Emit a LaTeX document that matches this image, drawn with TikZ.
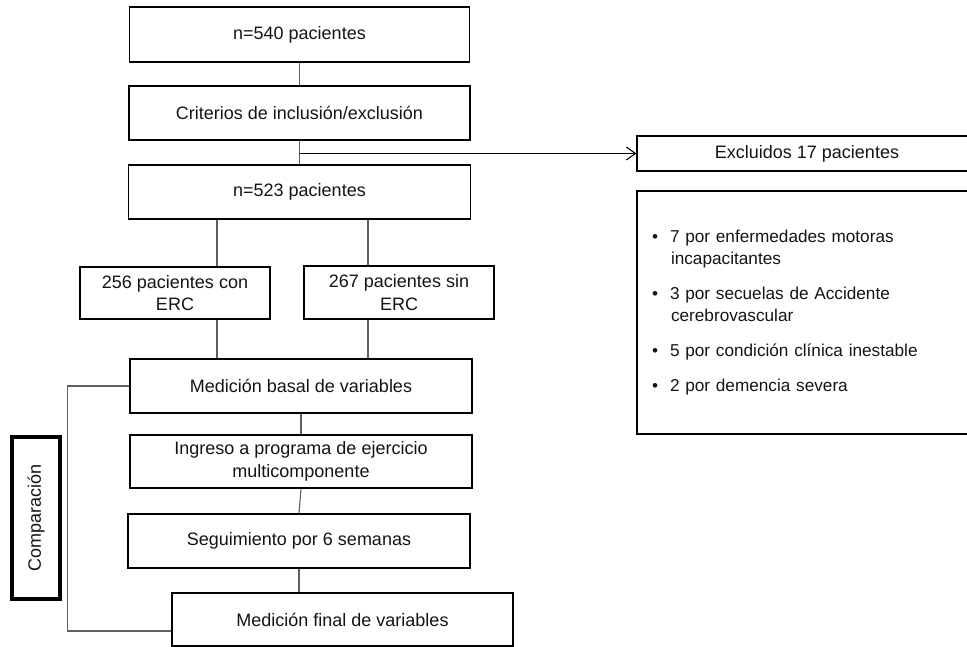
\documentclass[tikz,border=0pt]{standalone}
\usepackage{fontspec}
\setmainfont{Liberation Sans}
\usepackage{tikz}
\usetikzlibrary{arrows.meta}
\usepackage{xcolor}
\definecolor{ColLine}{RGB}{95,95,95}
\definecolor{ColText}{RGB}{20,20,20}
\tikzstyle{BoxStep}=[rectangle,draw=black,line width=1.4pt,inner sep=0pt,align=center,
text=ColText,font=\fontsize{18}{22.5}\selectfont]
\tikzstyle{BoxNote}=[BoxStep,align=left,font=\fontsize{17.2}{22}\selectfont]
\tikzstyle{Link}=[ColLine,line width=1.1pt]
\tikzstyle{LinkArrow}=[black,line width=1.1pt,-{Straight Barb[length=9pt,width=13pt]}]

\begin{document}
\begin{tikzpicture}[x=1pt,y=-1pt]
        \useasboundingbox (0,0) rectangle (967,647);
        \node[BoxStep,minimum width=340,minimum height=55](b1)at(299.5,34.5){n=540 pacientes};
        \node[BoxStep,minimum width=341,minimum height=54](b2)at(299.5,113){Criterios de inclusión/exclusión};
        \node[BoxStep,minimum width=342,minimum height=54](b3)at(299.5,192){n=523 pacientes};
        \node[BoxStep,minimum width=190,minimum height=52](b4)at(175,293){256 pacientes con\\ERC};
        \node[BoxStep,minimum width=190,minimum height=53](b5)at(399,292.5){267 pacientes sin\\ERC};
        \node[BoxStep,minimum width=342,minimum height=54](b6)at(301,386){Medición basal de variables};
        \node[BoxStep,minimum width=342,minimum height=53](b7)at(301,461.5){Ingreso a programa de ejercicio\\multicomponente};
        \node[BoxStep,minimum width=342,minimum height=54](b8)at(299,541){Seguimiento por 6 semanas};
        \node[BoxStep,minimum width=341,minimum height=53](b9)at(342.5,619.5){Medición final de variables};
        \node[BoxStep,line width=3.5pt,minimum width=162,minimum height=48,rotate=90](comp)at(36,518){Comparación};
        \node[BoxStep,minimum width=350,minimum height=35](excl)at(812,153.5){\hspace*{-10pt}Excluidos 17 pacientes};
        \node[BoxNote,minimum width=350,minimum height=243,text width=350,inner xsep=0pt](list)at(812,312.5){%
          \hspace*{15pt}\textbullet\hspace{12pt}7 por enfermedades motoras\\
          \hspace*{34pt}incapacitantes\\[13pt]
          \hspace*{15pt}\textbullet\hspace{12pt}3 por secuelas de Accidente\\
          \hspace*{34pt}cerebrovascular\\[13pt]
          \hspace*{15pt}\textbullet\hspace{12pt}5 por condición clínica inestable\\[13pt]
          \hspace*{15pt}\textbullet\hspace{12pt}2 por demencia severa};
        \coordinate(split)at(b2.south |- excl.west);
        \draw[Link](b1)--(b2);
        \draw[Link](b2)--(b3);
        \draw[LinkArrow](split)--(excl.west);
        \draw[Link]([xshift=42pt]b4.north)--([xshift=42pt]b4.north |- b3.south);
        \draw[Link]([xshift=-31pt]b5.north)--([xshift=-31pt]b5.north |- b3.south);
        \draw[Link]([xshift=42pt]b4.south)--([xshift=42pt]b4.south |- b6.north);
        \draw[Link]([xshift=-31pt]b5.south)--([xshift=-31pt]b5.south |- b6.north);
        \draw[Link](b6.south)--(b7.north);
        \draw[Link](b7.south)--(b8.north);
        \draw[Link](b8.south)--(b8.south |- b9.north);
        \draw[Link](b6.west)--++(-62,0)|-([yshift=-11.5pt]b9.west);
    \end{tikzpicture}
\end{document}
